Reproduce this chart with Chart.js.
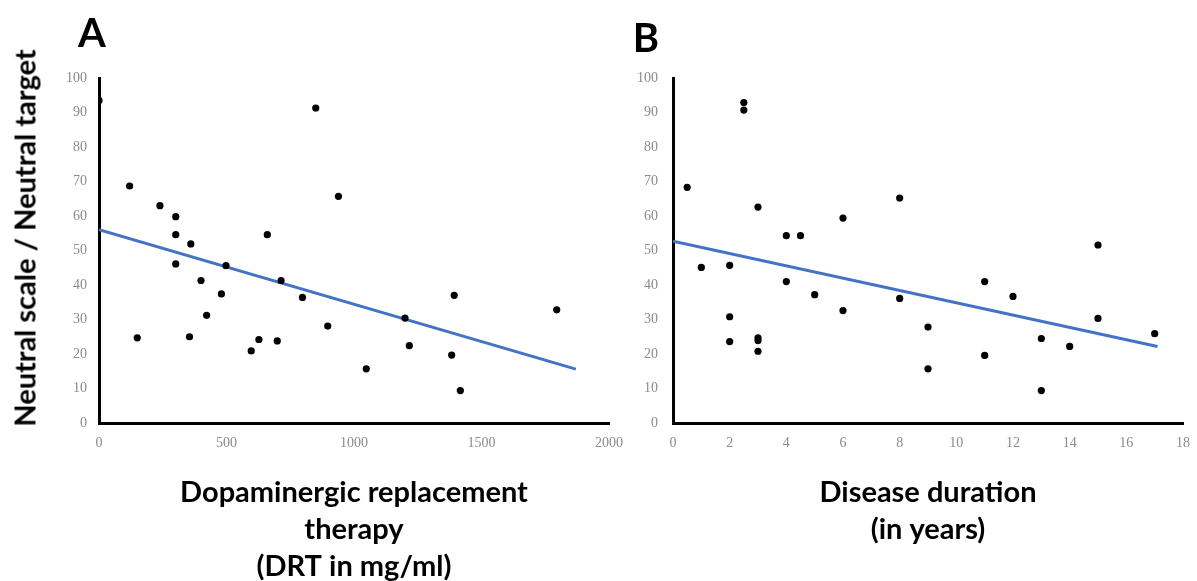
<!DOCTYPE html>
<html>
<head>
<meta charset="utf-8">
<script src="https://cdn.jsdelivr.net/npm/chart.js@4"></script>
<style>
  html, body { margin: 0; padding: 0; background: #fff; overflow: hidden; }
  #wrap { position: relative; width: 1197px; height: 581px; }
  .panel { position: absolute; top: 0; }
  .letter { position: absolute; font-family: Lato, sans-serif; font-weight: bold; font-size: 40px; line-height: 1; transform: translate(-50%, -50%); }
  #ytitle { position: absolute; left: 24px; top: 238px; font-family: Lato, sans-serif; font-weight: bold; font-size: 29px; white-space: nowrap; transform: translate(-50%, -50%) rotate(-90deg); }
</style>
</head>
<body>
<div id="wrap">
  <div class="panel" style="left:0"><canvas id="chartA" width="625" height="581"></canvas></div>
  <div class="panel" style="left:625px"><canvas id="chartB" width="572" height="581"></canvas></div>
  <div class="letter" style="left:92px; top:32px">A</div>
  <div class="letter" style="left:646px; top:37px">B</div>
  <div id="ytitle">Neutral scale / Neutral target</div>
</div>
<script>
// Panel A: dopaminergic replacement therapy
const drtX = [0, 850, 120, 939, 239, 301, 301, 660, 360, 301, 498, 400, 714, 480, 798, 422, 150, 355, 627, 597, 699, 897, 1393, 1795, 1200, 1217, 1048, 1383, 1417];
const drtY = [93.5, 91.3, 68.7, 65.7, 63, 59.8, 54.6, 54.6, 51.9, 46.1, 45.6, 41.3, 41.3, 37.4, 36.4, 31.2, 24.7, 25, 24.2, 20.9, 23.8, 28.1, 37, 32.8, 30.4, 22.4, 15.7, 19.7, 9.4];
const drtTrendX = [0, 1870];
const drtTrendY = [56, 15.6];

// Panel B: disease duration
const durX = [0.5, 2.5, 2.5, 3, 4, 4.5, 6, 8, 1, 2, 2, 2, 3, 3, 3, 4, 5, 6, 8, 9, 9, 11, 11, 12, 13, 13, 14, 15, 15, 17];
const durY = [68.3, 92.9, 90.7, 62.6, 54.3, 54.3, 59.4, 65.2, 45.1, 45.7, 30.8, 23.6, 24.7, 23.9, 20.8, 41, 37.2, 32.6, 36.1, 27.8, 15.7, 41, 19.6, 36.7, 24.5, 9.4, 22.2, 51.6, 30.3, 25.9];
const durTrendX = [0, 17.1];
const durTrendY = [52.7, 22.2];

const yTicks = { min: 0, max: 100, step: 10 };
const xTicksA = { min: 0, max: 2000, step: 500 };
const xTicksB = { min: 0, max: 18, step: 2 };

const tickFont = { family: "'Liberation Serif', serif", size: 14 };
const tickColor = "#8a8a8a";
const titleFont = { family: "Lato, sans-serif", size: 29, weight: "bold", lineHeight: 1.28 };

function toPoints(xs, ys) {
    return xs.map((x, i) => ({ x, y: ys[i] }));
}

function makeChart(canvas, cfg) {
    return new Chart(canvas, {
        type: "scatter",
        data: {
            datasets: [
                {
                    data: toPoints(cfg.xs, cfg.ys),
                    backgroundColor: "#000",
                    borderWidth: 0,
                    pointRadius: 3.6
                },
                {
                    type: "line",
                    data: toPoints(cfg.tx, cfg.ty),
                    borderColor: "#4472C4",
                    borderWidth: 3,
                    pointRadius: 0,
                    fill: false
                }
            ]
        },
        options: {
            responsive: false,
            animation: false,
            layout: { padding: { top: 78, right: cfg.padRight, left: 0, bottom: 0 } },
            plugins: { legend: { display: false }, tooltip: { enabled: false } },
            scales: {
                x: {
                    type: "linear",
                    min: cfg.xt.min,
                    max: cfg.xt.max,
                    // fixed box so the plot area lines up with the reference
                    afterFit: (s) => { s.height = 158; s.paddingLeft = 0; s.paddingRight = 0; },
                    grid: { display: false, drawTicks: false },
                    border: { color: "#000", width: 3 },
                    ticks: {
                        stepSize: cfg.xt.step,
                        font: tickFont,
                        color: tickColor,
                        padding: 12,
                        maxRotation: 0,
                        callback: (v) => String(v)
                    },
                    title: {
                        display: true,
                        text: cfg.xTitle,
                        color: "#000",
                        font: titleFont,
                        padding: { top: 0, bottom: cfg.titlePad }
                    }
                },
                y: {
                    min: yTicks.min,
                    max: yTicks.max,
                    afterFit: (s) => { s.width = cfg.yWidth; s.paddingTop = 0; s.paddingBottom = 0; },
                    grid: { display: false, drawTicks: false },
                    border: { color: "#000", width: 3 },
                    ticks: { stepSize: yTicks.step, font: tickFont, color: tickColor, padding: cfg.yPad }
                }
            }
        }
    });
}

makeChart(document.getElementById("chartA"), {
    xs: drtX, ys: drtY, tx: drtTrendX, ty: drtTrendY,
    xt: xTicksA, padRight: 16, yWidth: 99, yPad: 12, titlePad: -4,
    xTitle: ["Dopaminergic replacement", "therapy", "(DRT in mg/ml)"]
});

makeChart(document.getElementById("chartB"), {
    xs: durX, ys: durY, tx: durTrendX, ty: durTrendY,
    xt: xTicksB, padRight: 14, yWidth: 48, yPad: 15, titlePad: 33,
    xTitle: ["Disease duration", "(in years)"]
});
</script>
</body>
</html>
